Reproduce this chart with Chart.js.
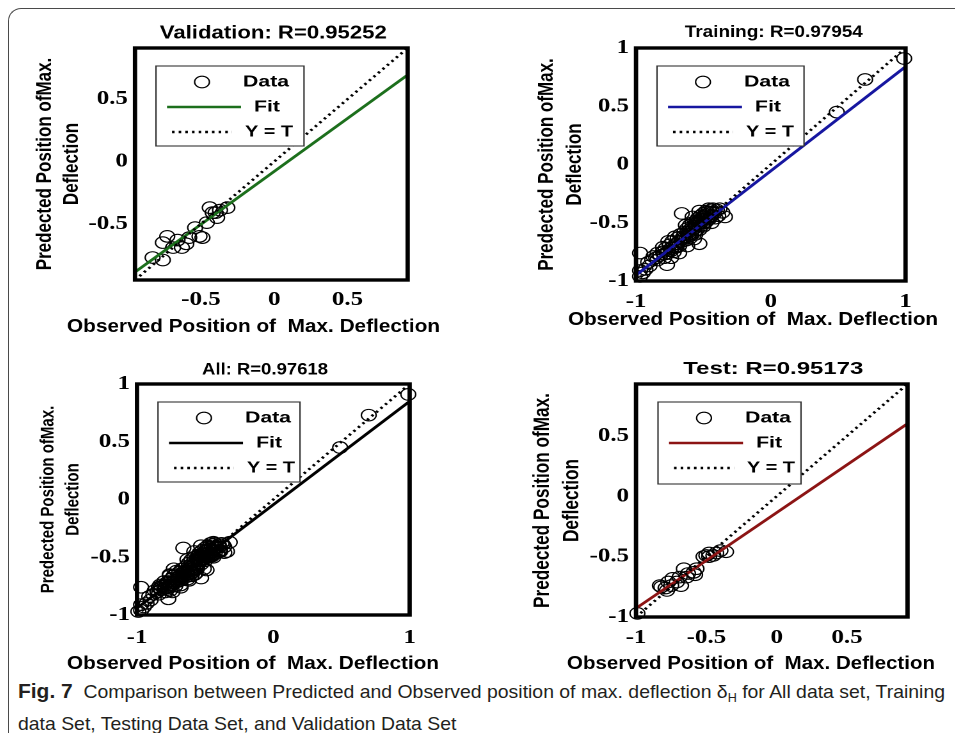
<!DOCTYPE html>
<html><head><meta charset="utf-8">
<script src="https://cdn.jsdelivr.net/npm/chart.js@4.4.1/dist/chart.umd.min.js"></script>
<style>
html,body{margin:0;padding:0;background:#fff;}
body{width:955px;height:733px;position:relative;overflow:hidden;}
#frame{position:absolute;left:8px;top:8px;width:1000px;height:800px;border-left:1.5px solid #4a4a4a;border-top:1.5px solid #4a4a4a;border-top-left-radius:13px;}
.panel{position:absolute;transform-origin:0 0;}
#caption{position:absolute;left:18px;top:677px;font-family:"Liberation Sans Narrow","Liberation Sans",sans-serif;font-size:18.5px;line-height:29px;color:#231f20;white-space:nowrap;transform-origin:0 0;}
#caption div{display:inline-block;}
#caption b{font-size:1.08em;}
#caption sub{font-size:0.65em;vertical-align:baseline;position:relative;top:0.35em;}
</style></head><body>
<div id="frame"></div>
<div class="panel" id="p1"><canvas id="c1"></canvas></div>
<div class="panel" id="p2"><canvas id="c2"></canvas></div>
<div class="panel" id="p3"><canvas id="c3"></canvas></div>
<div class="panel" id="p4"><canvas id="c4"></canvas></div>
<div id="caption"><div id="cl1"><b>Fig. 7</b>&nbsp; Comparison between Predicted and Observed position of max. deflection δ<sub>H</sub> for All data set, Training</div><br><div id="cl2">data Set, Testing Data Set, and Validation Data Set</div></div>
<script>
// ---------- DATA ----------
const panelTitles = ['Validation: R=0.95252', 'Training: R=0.97954', 'All: R=0.97618', 'Test: R=0.95173'];
const legendLabels = ['Data', 'Fit', 'Y = T'];
const xAxisTitle = 'Observed Position of  Max. Deflection';
const yAxisTitle = ['Predected Position ofMax.', 'Deflection'];

const valRange = [-0.95, 0.91];
const trainRange = [-1, 1];
const allRange = [-1, 1];
const testRange = [-1, 0.93];

const valXTicks = [-0.5, 0, 0.5];
const valYTicks = [-0.5, 0, 0.5];
const trainXTicks = [-1, 0, 1];
const trainYTicks = [-1, -0.5, 0, 0.5, 1];
const allXTicks = [-1, 0, 1];
const allYTicks = [-1, -0.5, 0, 0.5, 1];
const testXTicks = [-1, -0.5, 0, 0.5];
const testYTicks = [-1, -0.5, 0, 0.5];

const valData = [
  [-0.83,-0.77],[-0.76,-0.79],[-0.76,-0.65],[-0.69,-0.69],[-0.66,-0.63],[-0.63,-0.69],
  [-0.58,-0.61],[-0.54,-0.53],[-0.51,-0.60],[-0.49,-0.61],[-0.46,-0.49],[-0.44,-0.37],
  [-0.42,-0.41],[-0.39,-0.45],[-0.37,-0.39],[-0.32,-0.37],[-0.40,-0.41],[-0.73,-0.60],[-0.60,-0.66]
];
const trainData = [
  [-0.97,-0.76],[-0.97,-0.91],[-0.97,-0.96],[-0.95,-0.93],[-0.93,-0.90],[-0.90,-0.87],[-0.91,-0.84],
  [-0.88,-0.82],[-0.87,-0.79],[-0.85,-0.80],[-0.84,-0.82],[-0.84,-0.76],[-0.82,-0.78],[-0.80,-0.71],
  [-0.80,-0.75],[-0.79,-0.80],[-0.78,-0.72],[-0.77,-0.86],[-0.76,-0.74],[-0.76,-0.66],[-0.75,-0.69],
  [-0.74,-0.80],[-0.74,-0.72],[-0.73,-0.66],[-0.72,-0.75],[-0.71,-0.71],[-0.71,-0.62],[-0.70,-0.68],
  [-0.69,-0.63],[-0.68,-0.70],[-0.68,-0.76],[-0.67,-0.60],[-0.66,-0.66],[-0.66,-0.42],[-0.65,-0.62],
  [-0.64,-0.58],[-0.63,-0.65],[-0.63,-0.52],[-0.62,-0.55],[-0.62,-0.70],[-0.61,-0.60],[-0.60,-0.52],
  [-0.60,-0.63],[-0.59,-0.57],[-0.58,-0.50],[-0.58,-0.45],[-0.57,-0.55],[-0.57,-0.64],[-0.56,-0.60],
  [-0.55,-0.48],[-0.55,-0.53],[-0.54,-0.46],[-0.53,-0.56],[-0.53,-0.68],[-0.53,-0.40],[-0.52,-0.44],
  [-0.52,-0.50],[-0.51,-0.47],[-0.50,-0.42],[-0.50,-0.53],[-0.49,-0.45],[-0.48,-0.40],[-0.48,-0.49],
  [-0.47,-0.43],[-0.46,-0.38],[-0.46,-0.47],[-0.45,-0.41],[-0.44,-0.44],[-0.44,-0.50],[-0.43,-0.38],
  [-0.42,-0.42],[-0.41,-0.46],[-0.40,-0.39],[-0.39,-0.44],[-0.38,-0.38],[-0.36,-0.41],[-0.34,-0.45],
  [-0.62,-0.58],[-0.60,-0.56],[-0.58,-0.53],[-0.56,-0.51],[-0.54,-0.49],[-0.52,-0.47],[-0.50,-0.45],
  [-0.48,-0.43],[-0.47,-0.46],[-0.49,-0.50],[-0.51,-0.52],[-0.53,-0.50],[-0.55,-0.56],[-0.57,-0.58],
  [-0.59,-0.60],[-0.61,-0.62],[-0.64,-0.63],[-0.66,-0.64],[-0.68,-0.66],[-0.70,-0.71],[-0.72,-0.70],
  [-0.74,-0.74],[-0.77,-0.76],[-0.79,-0.77],[-0.45,-0.45],[-0.43,-0.41],[-0.44,-0.39],[-0.47,-0.41],
  [0.49,0.45],[0.70,0.73],[0.99,0.91]
];
const testData = [
  [-0.99,-0.97],[-0.83,-0.74],[-0.79,-0.76],[-0.77,-0.71],[-0.74,-0.68],[-0.69,-0.67],[-0.68,-0.74],
  [-0.63,-0.64],[-0.66,-0.60],[-0.59,-0.63],[-0.57,-0.60],[-0.50,-0.49],[-0.48,-0.47],[-0.45,-0.49],
  [-0.43,-0.47],[-0.40,-0.45],[-0.36,-0.46],[-0.48,-0.50],[-0.75,-0.74],[-0.78,-0.78],[-0.71,-0.71],
  [-0.64,-0.67],[-0.58,-0.65],[-0.82,-0.75],[-0.52,-0.50]
];
const allData = trainData.concat(valData, testData);

const valFit = [[-0.95,-0.886],[0.91,0.694]];
const trainFit = [[-1,-0.95],[1,0.84]];
const allFit = [[-1,-0.94],[1,0.85]];
const testFit = [[-1,-0.928],[0.93,0.602]];

// ---------- LAYOUT ----------
const S = 1.28; // horizontal stretch of each panel
const panels = [
  {id:'p1', c:'c1', L:10, T:12, W:465, H:335, area:[135,48,408,280], range:valRange, xt:valXTicks, yt:valYTicks,
   data:valData, fit:valFit, color:'#1c6f1c', title:panelTitles[0], tb:[273.3,33.3,227,18],
   xtb:[253.5,327,373,18], xtc:300, leg:[156,66,148,80], yts:17, yl:[45,72]},
  {id:'p2', c:'c2', L:490, T:12, W:460, H:335, area:[636,48,906,281], range:trainRange, xt:trainXTicks, yt:trainYTicks,
   data:trainData, fit:trainFit, color:'#1616a0', title:panelTitles[1], tb:[773.8,32.3,178,17],
   xtb:[753,320,370,18], xtc:302, leg:[657,66,147,80], yts:17, yl:[547,575]},
  {id:'p3', c:'c3', L:10, T:357, W:465, H:320, area:[137,384,410,615], range:allRange, xt:allXTicks, yt:allYTicks,
   data:allData, fit:allFit, color:'#000000', title:panelTitles[2], tb:[265,370,126,16.5],
   xtb:[253,664,372,18], xtc:638, leg:[158,402,142,80], yts:15, yl:[48,73]},
  {id:'p4', c:'c4', L:490, T:357, W:460, H:320, area:[636,384,908,617], range:testRange, xt:testXTicks, yt:testYTicks,
   data:testData, fit:testFit, color:'#8c1414', title:panelTitles[3], tb:[773.3,369,180,17.5],
   xtb:[751,664,368,18], xtc:638, leg:[658,402,143,82], yts:17.2, yl:[543,572]}
];

function drawStretched(ctx, text, cx, cy, font, targetW) {
  ctx.save();
  ctx.font = font;
  const w = ctx.measureText(text).width;
  const k = targetW / (w * S);
  ctx.translate(cx, cy);
  ctx.scale(k, 1);
  ctx.textAlign = 'center';
  ctx.textBaseline = 'middle';
  ctx.fillStyle = '#000';
  ctx.fillText(text, 0, 0);
  ctx.restore();
}

const decorPlugin = {
  id: 'decor',
  afterDatasetsDraw(chart, args, o) {
    const ctx = chart.ctx, a = chart.chartArea;
    const px = x => (x - o.L) / S, py = y => y - o.T;
    ctx.save();
    // axes box
    ctx.strokeStyle = '#000';
    ctx.lineWidth = 3.4;
    ctx.strokeRect(a.left, a.top, a.right - a.left, a.bottom - a.top);
    // legend
    const [lx, ly, lw, lh] = o.leg;
    const bx = px(lx), by = py(ly);
    ctx.fillStyle = '#fff';
    ctx.fillRect(bx, by, lw / S, lh);
    ctx.strokeStyle = '#333';
    ctx.lineWidth = 1.1;
    ctx.strokeRect(bx, by, lw / S, lh);
    const rows = [16, 41, 66];
    const ds = chart.data.datasets;
    ctx.beginPath();
    ctx.lineWidth = ds[0].borderWidth;
    ctx.strokeStyle = ds[0].borderColor;
    ctx.arc(px(lx + 46), by + rows[0], ds[0].pointRadius, 0, Math.PI * 2);
    ctx.stroke();
    ctx.beginPath();
    ctx.lineWidth = ds[1].borderWidth;
    ctx.strokeStyle = ds[1].borderColor;
    ctx.moveTo(px(lx + 11), by + rows[1]);
    ctx.lineTo(px(lx + 85), by + rows[1]);
    ctx.stroke();
    ctx.beginPath();
    ctx.lineWidth = ds[2].borderWidth;
    ctx.strokeStyle = ds[2].borderColor;
    ctx.setLineDash(ds[2].borderDash);
    ctx.moveTo(px(lx + 16), by + rows[2]);
    ctx.lineTo(px(lx + 76), by + rows[2]);
    ctx.stroke();
    ctx.setLineDash([]);
    const lf = 'bold 16px "Liberation Sans", Arial, sans-serif';
    drawStretched(ctx, legendLabels[0], px(lx + 110), by + rows[0], lf, 46);
    drawStretched(ctx, legendLabels[1], px(lx + 111), by + rows[1], lf, 26);
    drawStretched(ctx, legendLabels[2], px(lx + 113), by + rows[2], lf, 48);
    drawStretched(ctx, o.title, px(o.tb[0]), py(o.tb[1]), 'bold ' + o.tb[3] + 'px "Liberation Sans", Arial, sans-serif', o.tb[2]);
    drawStretched(ctx, xAxisTitle, px(o.xtb[0]), py(o.xtb[1]), 'bold ' + o.xtb[3] + 'px "Liberation Sans", Arial, sans-serif', o.xtb[2]);
    ctx.restore();
  }
};

function makeChart(p) {
  const w = p.W / S, h = p.H;
  const wrap = document.getElementById(p.id);
  wrap.style.left = p.L + 'px';
  wrap.style.top = p.T + 'px';
  wrap.style.transform = 'scaleX(' + S + ')';
  const cv = document.getElementById(p.c);
  cv.width = w; cv.height = h;
  const [al, at, ar, ab] = p.area;
  const yw = (al - p.L) / S;
  const padTop = at - p.T;
  const padRight = w - (ar - p.L) / S;
  const xh = p.T + p.H - ab;
  const tickSize = 19.5, tickLH = 1.2;
  const xPad = (p.xtc - ab) - tickSize * tickLH / 2;
  const yLH = (p.yl[1] - p.yl[0]) / S;
  const yPad = (p.yl[0] - p.L) / S - yLH / 2;
  const tickFont = {family: '"Liberation Serif", "Times New Roman", serif', weight: 'bold', size: tickSize, lineHeight: tickLH};
  const ident = [[p.range[0], p.range[0]], [p.range[1], p.range[1]]];
  const toXY = arr => arr.map(d => ({x: d[0], y: d[1]}));
  new Chart(cv, {
    type: 'scatter',
    data: {
      datasets: [
        {label: legendLabels[0], data: toXY(p.data), showLine: false, pointStyle: 'circle', pointRadius: 5.8,
         pointBorderWidth: 1.1, borderWidth: 1.1, pointBackgroundColor: 'rgba(0,0,0,0)', borderColor: '#000',
         pointBorderColor: '#000', pointHoverRadius: 5.8, order: 3, clip: false},
        {label: legendLabels[1], data: toXY(p.fit), showLine: true, pointRadius: 0, borderWidth: 2.6,
         borderColor: p.color, order: 2, clip: false},
        {label: legendLabels[2], data: toXY(ident), showLine: true, pointRadius: 0, borderWidth: 2.4,
         borderColor: '#000', borderDash: [2, 3.2], order: 1, clip: false}
      ]
    },
    options: {
      responsive: false, animation: false, devicePixelRatio: 2,
      layout: {padding: {left: 0, top: padTop, right: padRight, bottom: 0}},
      plugins: {legend: {display: false}, tooltip: {enabled: false},
        decor: {L: p.L, T: p.T, leg: p.leg, title: p.title, tb: p.tb, xtb: p.xtb}},
      scales: {
        x: {type: 'linear', min: p.range[0], max: p.range[1],
          grid: {display: false, drawTicks: false, tickLength: 0}, border: {display: false},
          ticks: {font: tickFont, color: '#000', padding: xPad, autoSkip: false, maxRotation: 0, callback: v => String(v)},
          afterBuildTicks: sc => { sc.ticks = p.xt.map(v => ({value: v})); },
          afterFit: sc => { sc.height = xh; }},
        y: {type: 'linear', min: p.range[0], max: p.range[1],
          grid: {display: false, drawTicks: false, tickLength: 0}, border: {display: false},
          ticks: {font: tickFont, color: '#000', padding: 5.5, autoSkip: false, callback: v => String(v)},
          afterBuildTicks: sc => { sc.ticks = p.yt.map(v => ({value: v})); },
          afterFit: sc => { sc.width = yw; },
          title: {display: true, text: yAxisTitle, color: '#000',
            font: {family: '"Liberation Sans", Arial, sans-serif', weight: 'bold', size: p.yts, lineHeight: yLH / p.yts},
            padding: {top: yPad, bottom: 0}}}
      }
    },
    plugins: [decorPlugin]
  });
}
panels.forEach(makeChart);

// caption fit
const cap = document.getElementById('caption');
const l1 = document.getElementById('cl1');
const k = 927 / l1.getBoundingClientRect().width;
cap.style.transform = 'scaleX(' + k + ')';
</script>
</body></html>
